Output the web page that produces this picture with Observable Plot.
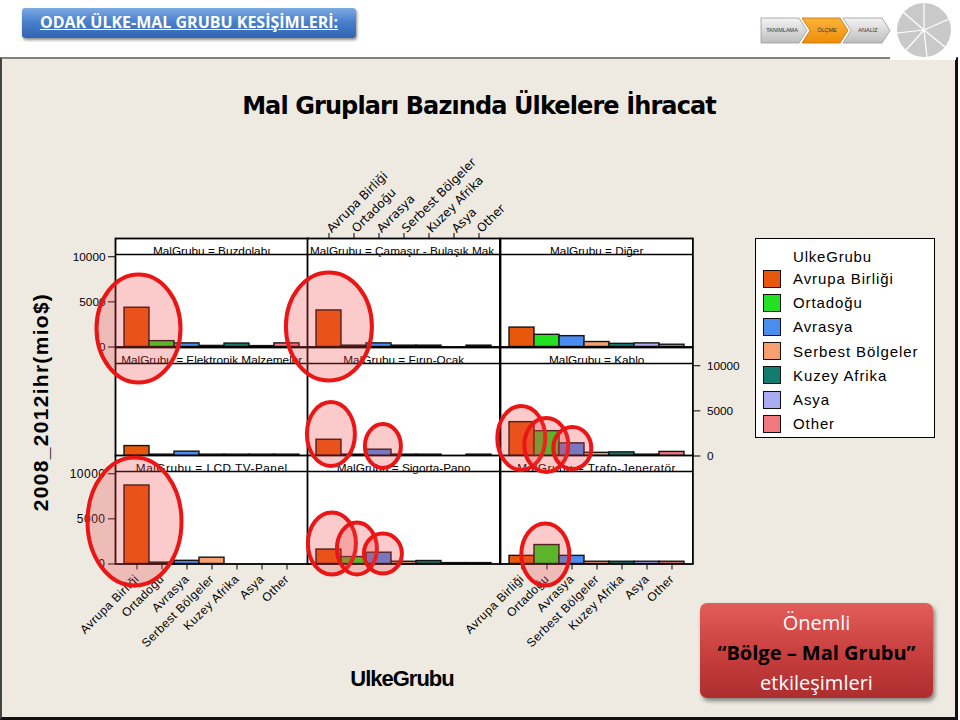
<!DOCTYPE html>
<html lang="tr">
<head>
<meta charset="utf-8">
<script src="https://cdn.jsdelivr.net/npm/d3@7"></script>
<script src="https://cdn.jsdelivr.net/npm/@observablehq/plot@0.6"></script>
<style>
html,body{margin:0;padding:0;}
body{width:960px;height:720px;position:relative;overflow:hidden;background:#fff;font-family:"Liberation Sans",Arial,sans-serif;}
.abs{position:absolute;}
#panel{left:0;top:57px;width:953px;height:658px;background:#eeeae2;border-top:2px solid #808080;border-left:2px solid #444;border-right:3px solid #111;border-bottom:3px solid #111;}
#hdr{left:22px;top:8px;width:334px;height:30px;border-radius:3px;background:linear-gradient(#7eaae2,#4a80cc 45%,#2f64b2);box-shadow:1px 2px 3px rgba(0,0,0,.45);color:#fff;font:bold 16px "Open Sans",sans-serif;text-align:center;line-height:29px;text-decoration:underline;}
#title{left:0;width:958px;top:92px;text-align:center;font:bold 24px "DejaVu Sans",sans-serif;color:#000;letter-spacing:-0.9px;}
#ytitle{left:-109px;width:300px;top:390px;height:24px;line-height:24px;text-align:center;font:bold 21px "Liberation Sans",Arial,sans-serif;letter-spacing:1.3px;transform:rotate(-90deg);color:#000;}
#xtitle{left:302px;width:200px;top:666px;text-align:center;font:bold 22px "Liberation Sans",Arial,sans-serif;letter-spacing:-1px;color:#000;}
#legend{left:755px;top:238px;width:178px;height:198px;background:#fff;border:1.5px solid #000;}
#legend .lt{position:absolute;left:37px;top:9px;font-size:15px;letter-spacing:0.8px;color:#000;}
#legend .sw{position:absolute;left:7px;width:16px;height:16px;border:1.5px solid #111;}
#legend .lb{position:absolute;left:37px;font-size:15px;letter-spacing:0.9px;line-height:18px;color:#000;}
#imp{left:700px;top:603px;width:233px;height:95px;border-radius:7px;background:linear-gradient(#e25d5a,#c73e3d 55%,#ad2d2e);box-shadow:2px 3px 4px rgba(0,0,0,.45);text-align:center;font-family:"Open Sans",sans-serif;}
#imp div{height:30px;line-height:30px;font-size:20px;}
#imp .w{color:#fff;}
#imp .b{color:#000;font-weight:bold;}
#overlay{left:0;top:0;pointer-events:none;}
</style>
</head>
<body>
<div id="panel" class="abs"></div>
<div id="hdr" class="abs">ODAK ÜLKE-MAL GRUBU KESİŞİMLERİ:</div>
<svg class="abs" style="left:0;top:0" width="960" height="62">
  <rect x="890" y="0" width="66" height="60" fill="#fff"/>
  <defs>
    <linearGradient id="gg" x1="0" y1="0" x2="0" y2="1"><stop offset="0" stop-color="#f4f4f4"/><stop offset="1" stop-color="#bdbdbd"/></linearGradient>
    <linearGradient id="go" x1="0" y1="0" x2="0" y2="1"><stop offset="0" stop-color="#fbb43c"/><stop offset="1" stop-color="#f08c08"/></linearGradient>
  </defs>
  <polygon points="761,18 799,18 807,30.5 799,43 761,43" fill="url(#gg)" stroke="#999" stroke-width="0.8"/>
  <polygon points="802,18 840,18 848,30.5 840,43 802,43 810,30.5" fill="url(#go)" stroke="#c07000" stroke-width="0.8"/>
  <polygon points="843,18 882,18 890,30.5 882,43 843,43 851,30.5" fill="url(#gg)" stroke="#999" stroke-width="0.8"/>
  <text x="782" y="32" font-size="5.5" text-anchor="middle" font-family="Liberation Sans" fill="#333">TANIMLAMA</text>
  <text x="827" y="32" font-size="5.5" text-anchor="middle" font-family="Liberation Sans" fill="#333">ÖLÇME</text>
  <text x="868" y="32" font-size="5.5" text-anchor="middle" font-family="Liberation Sans" fill="#333">ANALİZ</text>
  <circle cx="924" cy="30" r="27" fill="#c9c9c9"/>
  <g stroke="#fff" stroke-width="1.2">
    <line x1="924" y1="30" x2="924" y2="3"/>
    <line x1="924" y1="30" x2="949" y2="19"/>
    <line x1="924" y1="30" x2="945" y2="47"/>
    <line x1="924" y1="30" x2="927" y2="57"/>
    <line x1="924" y1="30" x2="906" y2="50"/>
    <line x1="924" y1="30" x2="897" y2="33"/>
    <line x1="924" y1="30" x2="903" y2="12"/>
  </g>
</svg>
<div id="title" class="abs">Mal Grupları Bazında Ülkelere İhracat</div>
<div id="ytitle" class="abs">2008_2012ihr(mio$)</div>
<div id="xtitle" class="abs">UlkeGrubu</div>
<div id="legend" class="abs"><div class="lt">UlkeGrubu</div></div>
<div id="imp" class="abs">
  <div class="w" style="margin-top:5px">Önemli</div>
  <div class="b">“Bölge – Mal Grubu”</div>
  <div class="w">etkileşimleri</div>
</div>
<script>
// ---------- data ----------
const countries = ["Avrupa Birliği", "Ortadoğu", "Avrasya", "Serbest Bölgeler", "Kuzey Afrika", "Asya", "Other"];
const countryColors = ["#e8580c", "#22e022", "#4a8cf0", "#f5a070", "#127a6e", "#abaaf5", "#f07a80"];
const groups = ["Buzdolabı", "Çamaşır - Bulaşık Mak.", "Diğer",
                "Elektronik Malzemeler", "Fırın-Ocak", "Kablo",
                "LCD TV-Panel", "Sigorta-Pano", "Trafo-Jeneratör"];
// export 2008-2012, mio $ (order follows countries)
const buzdolabi   = [4350, 650, 400, 120, 380, 100, 400];
const camasir     = [4050, 150, 400, 150, 150, 0, 150];
const diger       = [2150, 1350, 1200, 550, 350, 400, 250];
const elektronik  = [1100, 150, 480, 150, 150, 150, 150];
const firinOcak   = [1800, 150, 700, 150, 150, 0, 150];
const kablo       = [3750, 2750, 1400, 350, 400, 150, 450];
const lcdPanel    = [8700, 150, 350, 700, 0, 0, 0];
const sigortaPano = [1600, 770, 1250, 250, 330, 100, 100];
const trafo       = [900, 2100, 900, 250, 250, 250, 250];
const groupValues = [buzdolabi, camasir, diger, elektronik, firinOcak, kablo, lcdPanel, sigortaPano, trafo];
const yTickValues = [0, 5000, 10000];
const legendTitle = "UlkeGrubu";
// highlighted region / product-group pairs (red ellipses)
const highlights = [
  ["Buzdolabı", "Avrupa Birliği"], ["Çamaşır - Bulaşık Mak.", "Avrupa Birliği"],
  ["Fırın-Ocak", "Avrupa Birliği"], ["Fırın-Ocak", "Avrasya"],
  ["Kablo", "Avrupa Birliği"], ["Kablo", "Ortadoğu"], ["Kablo", "Avrasya"],
  ["LCD TV-Panel", "Avrupa Birliği"], ["Sigorta-Pano", "Avrupa Birliği"],
  ["Sigorta-Pano", "Ortadoğu"], ["Sigorta-Pano", "Avrasya"], ["Trafo-Jeneratör", "Ortadoğu"]
];

// ---------- layout (styles) ----------
const X0 = 115, Y0 = 238, W = 192.4, H = 108.5, STRIP = 16;
const M = {l: 70, r: 70, t: 90, b: 100};
const YMAX = 10250;
const axisConf = {0: {y: "left"}, 1: {x: "top"}, 5: {y: "right"}, 6: {y: "left", x: "bottom"}, 8: {x: "bottom"}};
// ellipse shape per highlight: rx, ry, rise of centre above baseline, dx
const ellipseShape = [
  [42, 54, 18, 2], [43, 54, 20, 0], [24, 32, 21, 2], [18, 22, 9, 4],
  [24, 32, 17, 0], [22, 27, 10, 0], [19, 21, 7, 1],
  [47, 64, 42, -2], [24, 31, 20, 3], [20, 26, 15, 3], [19, 20, 10, 4], [24, 31, 9, -1]
];

const charts = [];
groups.forEach((g, i) => {
  const col = i % 3, row = Math.floor(i / 3);
  const rows = countries.map((c, j) => ({country: c, value: groupValues[i][j]}));
  const ax = axisConf[i] || {};
  const topAxis = ax.x === "top";
  const chart = Plot.plot({
    width: M.l + W + M.r,
    height: M.t + H + M.b,
    marginLeft: M.l, marginRight: M.r, marginTop: M.t, marginBottom: M.b,
    style: {
      background: "transparent", overflow: "visible", color: "#000",
      fontFamily: topAxis ? "DejaVu Sans, sans-serif" : "Liberation Sans, Arial, sans-serif",
      fontSize: ax.x ? "12px" : "11.8px",
      letterSpacing: ax.x === "bottom" ? "0.5px" : "0px"
    },
    x: {domain: countries, padding: 0, insetLeft: 6.5, insetRight: 6.5, axis: ax.x || null,
        tickRotate: -45, tickSize: 6, tickPadding: ax.x === "bottom" ? 7 : 2, label: null},
    y: {domain: [0, YMAX], insetTop: STRIP, axis: ax.y || null, ticks: yTickValues,
        tickSize: 7, tickPadding: ax.y === "right" ? 7 : 3, tickFormat: d => String(d), label: null},
    color: {domain: countries, range: countryColors},
    marks: [
      Plot.frame({fill: "white", stroke: "none"}),
      Plot.barY(rows, {x: "country", y: "value", fill: "country", stroke: "#151515", strokeWidth: 1.4}),
      Plot.ruleY([YMAX], {stroke: "#000", strokeWidth: 1.6}),
      Plot.text([`MalGrubu = ${g}`], {text: d => d, frameAnchor: "top", dy: STRIP / 2 + 0.5,
        fontSize: 11.8, fontFamily: "Liberation Sans, Arial, sans-serif", fill: "#000"}),
      Plot.frame({stroke: "#000", strokeWidth: 1.8})
    ]
  });
  const left = X0 + col * W - M.l, top = Y0 + row * H - M.t;
  const holder = document.createElement("div");
  holder.className = "abs";
  holder.style.left = left + "px";
  holder.style.top = top + "px";
  holder.appendChild(chart);
  document.body.appendChild(holder);
  charts.push({chart, left, top});
});

// ---------- ellipses overlay ----------
const overlay = d3.select("body").append("svg").attr("id", "overlay").attr("class", "abs")
  .attr("width", 960).attr("height", 720);
highlights.forEach(([g, c], k) => {
  const {chart, left, top} = charts[groups.indexOf(g)];
  const sx = chart.scale("x"), sy = chart.scale("y");
  const bw = sx.bandwidth != null ? sx.bandwidth : (sx.range[1] - sx.range[0]) / countries.length;
  const [rx, ry, rise, dx] = ellipseShape[k];
  const cx = left + sx.apply(c) + bw / 2 + dx;
  const cy = top + sy.apply(0) - rise;
  overlay.append("ellipse").attr("cx", cx).attr("cy", cy).attr("rx", rx).attr("ry", ry)
    .attr("fill", "rgba(240,70,70,0.28)").attr("stroke", "#ea1515").attr("stroke-width", 4);
});

// ---------- legend ----------
const legend = document.getElementById("legend");
legend.querySelector(".lt").textContent = legendTitle;
countries.forEach((c, j) => {
  const yc = 40 + j * 24.2;
  const sw = document.createElement("div");
  sw.className = "sw"; sw.style.top = (yc - 9.5) + "px"; sw.style.background = countryColors[j];
  const lb = document.createElement("div");
  lb.className = "lb"; lb.style.top = (yc - 9) + "px"; lb.textContent = c;
  legend.appendChild(sw); legend.appendChild(lb);
});
</script>
</body>
</html>
